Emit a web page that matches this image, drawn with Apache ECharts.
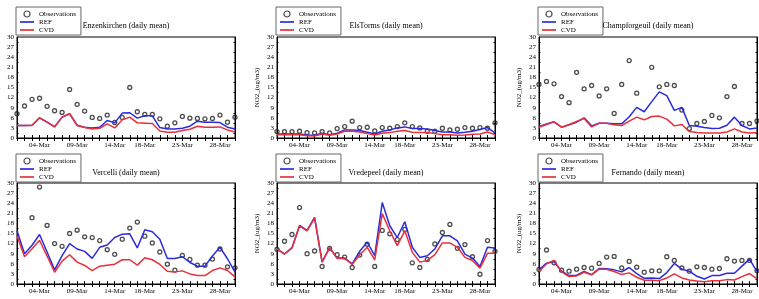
<!DOCTYPE html>
<html>
<head>
<meta charset="utf-8">
<title>NO2 daily mean</title>
<script src="https://cdn.jsdelivr.net/npm/echarts@6/dist/echarts.min.js"></script>
<style>
    html, body { margin: 0; padding: 0; background: #fff; }
    #main { width: 759px; height: 299px; }
</style>
</head>
<body>
<div id="main"></div>
<script>
    // x categories (one value per day)
    var days = ['01-Mar', '02-Mar', '03-Mar', '04-Mar', '05-Mar', '06-Mar', '07-Mar', '08-Mar', '09-Mar', '10-Mar',
        '11-Mar', '12-Mar', '13-Mar', '14-Mar', '15-Mar', '16-Mar', '17-Mar', '18-Mar', '19-Mar', '20-Mar',
        '21-Mar', '22-Mar', '23-Mar', '24-Mar', '25-Mar', '26-Mar', '27-Mar', '28-Mar', '29-Mar', '30-Mar'];
    var tickDays = ['04-Mar', '09-Mar', '14-Mar', '18-Mar', '23-Mar', '28-Mar'];

    var obsEnzenkirchen = [7.2, 9.5, 11.5, 11.8, 9.4, 8.1, 7.6, 14.4, 10.0, 8.0, 6.1, 5.8, 6.8, 4.6, 6.1, 15.0, 7.8, 7.0, 7.0, 5.7, 3.5, 4.5, 6.4, 5.9, 5.8, 5.7, 5.8, 6.8, 4.7, 6.2];
    var refEnzenkirchen = [3.7, 3.7, 3.8, 6.0, 4.7, 3.3, 6.2, 7.2, 3.8, 3.2, 3.0, 3.2, 5.2, 4.5, 7.4, 7.5, 5.9, 6.6, 6.6, 3.1, 2.7, 2.7, 2.9, 3.5, 5.0, 4.7, 4.7, 4.6, 3.2, 2.7];
    var cvdEnzenkirchen = [3.7, 3.7, 3.7, 6.0, 4.7, 3.3, 6.2, 7.2, 3.7, 3.1, 2.7, 2.9, 4.2, 3.0, 5.4, 6.2, 4.5, 4.4, 4.3, 2.1, 1.7, 1.7, 2.2, 2.6, 3.5, 3.2, 3.2, 3.3, 2.4, 1.8];

    var obsElsTorms = [1.9, 1.9, 1.9, 2.0, 1.6, 1.5, 1.9, 1.5, 2.8, 3.4, 5.0, 3.1, 3.2, 2.1, 3.1, 2.9, 3.4, 4.5, 3.4, 3.0, 2.0, 2.0, 2.9, 2.4, 2.6, 3.1, 2.9, 3.1, 2.9, 4.5];
    var refElsTorms = [1.2, 1.2, 1.2, 1.2, 0.9, 0.8, 1.4, 1.0, 1.4, 2.4, 2.4, 2.2, 1.7, 1.2, 2.0, 2.4, 3.0, 3.3, 2.8, 2.8, 2.7, 2.2, 1.8, 1.8, 1.5, 1.7, 2.0, 2.5, 3.1, 1.5];
    var cvdElsTorms = [1.0, 1.0, 1.0, 1.0, 0.7, 0.6, 1.2, 0.8, 1.2, 2.0, 2.0, 1.8, 1.3, 0.9, 1.4, 1.6, 2.0, 2.2, 1.7, 1.6, 1.6, 1.3, 1.0, 1.0, 0.8, 0.9, 1.1, 1.2, 1.8, 1.0];

    var obsChampforgeuil = [15.9, 16.8, 16.1, 12.3, 10.5, 19.5, 14.6, 15.6, 12.5, 14.6, 7.3, 15.9, 23.0, 13.3, '-', 21.0, 15.2, 15.9, 15.6, 8.3, 2.8, 4.3, 4.9, 6.7, 6.0, 12.3, 15.3, 4.3, 4.3, 5.1];
    var refChampforgeuil = [3.4, 4.2, 4.8, 3.2, 3.9, 4.7, 6.0, 3.6, 4.4, 4.4, 4.2, 4.2, 6.3, 9.1, 7.8, 10.8, 13.7, 12.6, 8.2, 9.1, 3.7, 3.5, 3.1, 2.8, 2.9, 3.8, 6.2, 3.7, 2.7, 3.0];
    var cvdChampforgeuil = [3.2, 4.0, 4.8, 3.2, 4.0, 4.9, 5.8, 3.3, 4.4, 4.4, 3.9, 3.7, 5.0, 6.2, 5.4, 6.4, 6.5, 5.6, 3.6, 4.0, 1.9, 1.6, 1.5, 1.5, 1.5, 1.8, 2.7, 1.8, 1.5, 1.6];

    var obsVercelli = ['-', '-', 19.7, 28.8, 17.4, 12.0, 11.2, 15.0, 16.0, 14.0, 13.8, 12.9, 10.2, 8.8, 13.3, 16.6, 18.4, 14.2, 12.2, 9.5, 5.9, 4.1, 8.5, 7.3, 5.6, 5.6, 7.4, 10.4, 5.1, 4.8];
    var refVercelli = [15.8, 9.0, 11.5, 14.7, 9.5, 4.2, 8.4, 12.0, 10.4, 9.7, 7.6, 10.9, 11.6, 13.8, 14.8, 14.9, 10.7, 16.1, 15.5, 13.3, 7.6, 7.6, 8.1, 6.4, 5.3, 5.3, 8.3, 10.9, 7.5, 3.5];
    var cvdVercelli = [14.3, 8.1, 10.5, 13.0, 8.3, 3.5, 6.8, 8.7, 6.5, 5.5, 4.0, 5.3, 5.6, 5.9, 7.2, 7.2, 5.6, 7.8, 7.2, 5.8, 3.8, 3.6, 3.9, 3.0, 2.5, 2.5, 4.0, 4.8, 4.0, 2.1];

    var obsVredepeel = [10.3, 12.7, 14.7, 22.7, 9.0, 9.8, 5.2, 10.6, 8.7, 8.0, 4.9, 8.6, 11.8, 5.2, 15.9, 14.9, 13.2, 16.2, 6.3, 4.9, 7.3, 11.9, 15.3, 17.7, 10.6, 11.7, 8.1, 2.9, 12.9, 9.7];
    var refVredepeel = [10.4, 8.9, 10.8, 17.4, 15.9, 19.8, 6.6, 10.8, 7.7, 7.7, 6.0, 9.7, 12.4, 8.4, 24.2, 17.3, 13.8, 18.5, 10.9, 7.9, 8.4, 10.4, 14.3, 14.3, 12.8, 8.9, 7.7, 5.2, 10.9, 10.7];
    var cvdVredepeel = [10.4, 8.9, 10.7, 17.3, 15.8, 19.6, 6.5, 10.7, 7.6, 7.6, 5.8, 8.7, 10.9, 7.2, 20.9, 15.8, 11.4, 15.8, 9.4, 6.5, 7.0, 8.7, 12.2, 12.2, 10.9, 7.9, 7.0, 4.7, 9.1, 9.1];

    var obsFernando = [4.3, 10.1, 6.3, 4.1, 3.8, 4.4, 4.9, 4.7, 6.1, 8.0, 8.2, 4.8, 6.7, 5.0, 3.5, 3.9, 3.9, 8.1, 7.0, 4.8, 3.8, 5.1, 4.9, 4.4, 4.6, 7.5, 6.8, 7.0, 7.0, 3.9];
    var refFernando = [4.2, 6.2, 6.6, 3.8, 2.5, 2.6, 3.7, 2.8, 4.6, 4.5, 4.2, 3.6, 4.9, 3.1, 1.7, 1.8, 1.6, 3.4, 6.1, 4.4, 3.8, 2.3, 1.5, 2.5, 2.5, 3.2, 3.2, 5.3, 7.4, 3.7];
    var cvdFernando = [3.7, 6.0, 7.0, 3.6, 2.2, 2.4, 3.5, 2.7, 4.4, 4.4, 3.7, 2.8, 3.3, 2.0, 1.1, 1.1, 1.0, 1.8, 3.0, 1.8, 1.2, 0.9, 0.7, 1.0, 1.0, 1.3, 1.2, 2.2, 3.1, 1.6];

    var panels = [
        { title: 'Enzenkirchen (daily mean)', obs: obsEnzenkirchen, ref: refEnzenkirchen, cvd: cvdEnzenkirchen },
        { title: 'ElsTorms (daily mean)', obs: obsElsTorms, ref: refElsTorms, cvd: cvdElsTorms },
        { title: 'Champforgeuil (daily mean)', obs: obsChampforgeuil, ref: refChampforgeuil, cvd: cvdChampforgeuil },
        { title: 'Vercelli (daily mean)', obs: obsVercelli, ref: refVercelli, cvd: cvdVercelli },
        { title: 'Vredepeel (daily mean)', obs: obsVredepeel, ref: refVredepeel, cvd: cvdVredepeel },
        { title: 'Fernando (daily mean)', obs: obsFernando, ref: refFernando, cvd: cvdFernando }
    ];

    var serif = '"Liberation Serif", "DejaVu Serif", serif';
    var refColor = '#2b2bdc';
    var cvdColor = '#e8303a';
    var gridLefts = [17, 277, 539];
    var gridTops = [37, 183];
    var legendTops = [7, 154];
    var titleTops = [22, 169];
    // thin horizontal bar as the legend icon of the two lines
    var lineIcon = 'path://M0,0H20V2.4H0Z';

    var myChart = echarts.init(document.getElementById('main'));

    var option = {
        animation: false,
        backgroundColor: '#fff',
        title: [],
        legend: [],
        grid: [],
        xAxis: [],
        yAxis: [],
        series: []
    };

    var tickStyle = { color: '#000', width: 1 };

    panels.forEach(function (p, i) {
        var col = i % 3;
        var row = Math.floor(i / 3);
        var left = gridLefts[col];
        var top = gridTops[row];

        // outerBoundsMode none: keep the plot box where it is, even if the axis name sticks out
        option.grid.push({
            left: left, top: top, width: 218, height: 101,
            outerBoundsMode: 'none', containLabel: false,
            show: true, borderColor: '#000', borderWidth: 1
        });

        option.title.push({
            text: p.title,
            left: left + 109,
            top: titleTops[row],
            textAlign: 'center',
            padding: 0,
            textStyle: { fontFamily: serif, fontSize: 8, fontWeight: 'normal', color: '#000' }
        });

        option.legend.push({
            orient: 'vertical',
            left: left - 1,
            top: legendTops[row],
            padding: [3, 5, 1, 4],
            itemGap: 0,
            itemWidth: 14,
            itemHeight: 6,
            borderColor: '#666',
            borderWidth: 1,
            backgroundColor: '#fff',
            data: [
                { name: 'Observations', icon: 'circle', itemStyle: { color: 'rgba(255,255,255,0)', borderColor: '#222', borderWidth: 1.2 } },
                { name: 'REF', icon: lineIcon, itemStyle: { color: refColor, borderWidth: 0 } },
                { name: 'CVD', icon: lineIcon, itemStyle: { color: cvdColor, borderWidth: 0 } }
            ],
            textStyle: { fontFamily: serif, fontSize: 7, lineHeight: 8, color: '#000' }
        });

        // bottom axis with labels, top axis only for the ticks
        option.xAxis.push({
            gridIndex: i,
            type: 'category',
            data: days,
            boundaryGap: false,
            axisLine: { lineStyle: tickStyle },
            axisTick: { inside: true, length: 3, interval: 0, lineStyle: tickStyle },
            axisLabel: {
                interval: function (idx, value) { return tickDays.indexOf(value) >= 0; },
                fontFamily: serif, fontSize: 7, color: '#000', margin: 4
            },
            splitLine: { show: false }
        });
        option.xAxis.push({
            gridIndex: i,
            type: 'category',
            position: 'top',
            data: days,
            boundaryGap: false,
            axisLine: { lineStyle: tickStyle },
            axisTick: { inside: true, length: 3, interval: 0, lineStyle: tickStyle },
            axisLabel: { show: false },
            splitLine: { show: false }
        });

        option.yAxis.push({
            gridIndex: i,
            type: 'value',
            min: 0,
            max: 30,
            interval: 3,
            name: 'NO2_(ug/m3)',
            nameLocation: 'middle',
            nameGap: 16,
            nameTextStyle: { fontFamily: serif, fontSize: 7, color: '#000' },
            axisLine: { show: true, lineStyle: tickStyle },
            axisTick: { inside: true, length: 3, lineStyle: tickStyle },
            minorTick: { show: true, splitNumber: 2, length: 1.5, lineStyle: tickStyle },
            axisLabel: { fontFamily: serif, fontSize: 7, color: '#000', margin: 3 },
            splitLine: { show: false }
        });
        option.yAxis.push({
            gridIndex: i,
            type: 'value',
            position: 'right',
            min: 0,
            max: 30,
            interval: 3,
            axisLine: { show: true, lineStyle: tickStyle },
            axisTick: { inside: true, length: 3, lineStyle: tickStyle },
            minorTick: { show: true, splitNumber: 2, length: 1.5, lineStyle: tickStyle },
            axisLabel: { show: false },
            splitLine: { show: false }
        });

        option.series.push({
            name: 'REF',
            type: 'line',
            xAxisIndex: 2 * i,
            yAxisIndex: 2 * i,
            data: p.ref,
            symbol: 'none',
            lineStyle: { color: refColor, width: 1.5 },
            itemStyle: { color: refColor }
        });
        option.series.push({
            name: 'CVD',
            type: 'line',
            xAxisIndex: 2 * i,
            yAxisIndex: 2 * i,
            data: p.cvd,
            symbol: 'none',
            lineStyle: { color: cvdColor, width: 1.5 },
            itemStyle: { color: cvdColor }
        });
        option.series.push({
            name: 'Observations',
            type: 'scatter',
            xAxisIndex: 2 * i,
            yAxisIndex: 2 * i,
            data: p.obs,
            symbol: 'circle',
            symbolSize: 4,
            itemStyle: { color: 'rgba(255,255,255,0)', borderColor: '#222', borderWidth: 1.3 }
        });
    });

    if (option && typeof option === "object") {
        myChart.setOption(option, true);
    }
</script>
</body>
</html>
